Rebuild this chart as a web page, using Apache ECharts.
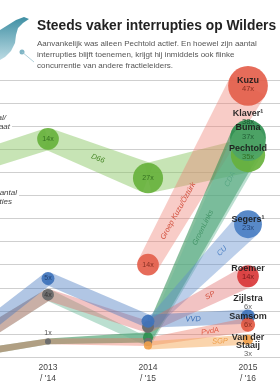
<!DOCTYPE html>
<html>
<head>
<meta charset="utf-8">
<script src="https://cdn.jsdelivr.net/npm/echarts@6/dist/echarts.min.js"></script>
<style>
html, body { margin: 0; padding: 0; background: #fff; }
#chart { width: 280px; height: 384px; }
</style>
</head>
<body>
<div id="chart"></div>
<script>
// jaren (x) en labels onder de as
const years = [2012, 2013, 2014, 2015]
const yearLabels = ['2012\n/ \'13', '2013\n/ \'14', '2014\n/ \'15', '2015\n/ \'16']

const partyNames = ['D66', 'Groep Kuzu/Öztürk', 'GroenLinks', 'CDA', 'CU', 'SP', 'VVD', 'PvdA', 'SGP']
const leaderNames = ['Pechtold', 'Kuzu', 'Klaver¹', 'Buma', 'Segers¹', 'Roemer', 'Zijlstra', 'Samsom', 'Van der\nStaaij']

// aantal interrupties per jaar
const d66Count = [12, 14, 27, 35]
const kuzuCount = [null, null, 14, 47]
const glCount = [2, 1, 3, 38]
const cdaCount = [6, 4, 2, 37]
const cuCount = [null, null, 4, 23]
const spCount = [6, 4, 4, 14]
const vvdCount = [6, 5, 5, 6]
const pvdaCount = [2, 1, 2, 6]
const sgpCount = [null, null, 2, 3]

// aandeel in procenten (positie op de y-as)
const d66Share = [16.1, 18.9, 15.5, 17.5]
const kuzuShare = [null, null, 8.0, 23.5]
const glShare = [0, 1.35, 1.7, 19.0]
const cdaShare = [0, 5.4, 1.3, 18.5]
const cuShare = [null, null, 2.6, 11.5]
const spShare = [0, 5.4, 2.6, 7.0]
const vvdShare = [0, 6.8, 3.1, 3.5]
const pvdaShare = [0, 1.35, 1.3, 2.8]
const sgpShare = [null, null, 1.0, 1.5]

const counts = [d66Count, kuzuCount, glCount, cdaCount, cuCount, spCount, vvdCount, pvdaCount, sgpCount]
const shares = [d66Share, kuzuShare, glShare, cdaShare, cuShare, spShare, vvdShare, pvdaShare, sgpShare]

// stijl per partij
const circleColors = ['#68b23d', '#e4604c', '#2f8f50', '#4ea466', '#4a7fc3', '#d9383a', '#3f73bb', '#e35a43', '#f0a04b']
const bandColors = ['rgba(130,196,90,0.45)', 'rgba(238,128,116,0.4)', 'rgba(40,140,80,0.55)', 'rgba(105,185,150,0.45)',
  'rgba(95,140,205,0.42)', 'rgba(222,105,105,0.4)', 'rgba(70,120,190,0.42)', 'rgba(235,110,90,0.4)', 'rgba(245,170,90,0.5)']
const textColors = ['#4a8a2a', '#d2503e', '#2a7a45', '#5aa885', '#4a7fc3', '#d2503e', '#3b6fb6', '#e05a43', '#f0a04b']
const innerColors = ['#2f6a1d', '#7e2a1e', '#174f2c', '#1f5a33', '#1f3f70', '#6e1617', '#1f3f70', '#7e2a1e', '#6b4010']
const countColors = ['#2f6a1d', '#7e2a1e', '#174f2c', '#1f5a33', '#1f3f70', '#6e1617', '#555', '#7e2a1e', '#555']
// label langs de band: welk segment en waar
const bandLabelSeg = [1, 2, 2, 2, 2, 2, 2, 2, 2]
const bandLabelT = [0.5, 0.3, 0.55, 0.82, 0.74, 0.62, 0.45, 0.62, 0.72]
// offsets van de naam-labels bij 2015
const lastLabelOffset = [[0, -2], [0, -1], [0, -20], [0, -11], [0, 0], [0, -3], [0, -14], [0, -4], [0, 6]]

const R = c => 2.9 * Math.sqrt(c)
const font = 'Liberation Sans, Arial'

const chart = echarts.init(document.getElementById('chart'))

// banden
const bandSeries = partyNames.map((name, p) => {
  const segs = []
  for (let i = 0; i < years.length - 1; i++) {
    if (counts[p][i] == null || counts[p][i + 1] == null) continue
    segs.push([years[i], shares[p][i], counts[p][i], years[i + 1], shares[p][i + 1], counts[p][i + 1], i])
  }
  return {
    type: 'custom',
    name: name,
    z: 1,
    silent: true,
    encode: { x: [0, 3], y: [1, 4] },
    data: segs,
    renderItem: function (params, api) {
      const a = api.coord([api.value(0), api.value(1)])
      const b = api.coord([api.value(3), api.value(4)])
      const r0 = R(api.value(2))
      const r1 = R(api.value(5))
      const dx = b[0] - a[0]
      const dy = b[1] - a[1]
      const len = Math.sqrt(dx * dx + dy * dy)
      const nx = -dy / len
      const ny = dx / len
      const children = [{
        type: 'polygon',
        shape: { points: [
          [a[0] + nx * r0, a[1] + ny * r0], [b[0] + nx * r1, b[1] + ny * r1],
          [b[0] - nx * r1, b[1] - ny * r1], [a[0] - nx * r0, a[1] - ny * r0]
        ] },
        style: { fill: bandColors[p] }
      }]
      if (api.value(6) === bandLabelSeg[p]) {
        const t = bandLabelT[p]
        children.push({
          type: 'text',
          x: a[0] + dx * t,
          y: a[1] + dy * t,
          rotation: -Math.atan2(dy, dx),
          style: {
            text: name, fill: textColors[p], fontSize: 7.5, fontStyle: 'italic',
            fontFamily: font, align: 'center', verticalAlign: 'middle'
          }
        })
      }
      return { type: 'group', children: children }
    }
  }
})

// gedeelde punten (zelfde jaar, zelfde positie) worden grijs
function shared(p, i) {
  let n = 0
  shares.forEach((s, q) => { if (counts[q][i] != null && s[i] === shares[p][i]) n++ })
  return n > 1
}

const circleSeries = partyNames.map((name, p) => {
  const data = []
  years.forEach((y, i) => {
    if (counts[p][i] == null) return
    const item = { value: [y, shares[p][i], counts[p][i]] }
    const grey = shared(p, i)
    item.itemStyle = { color: grey ? '#6e6e6e' : circleColors[p] }
    if (i === years.length - 1) {
      item.label = {
        show: true, position: 'inside', offset: lastLabelOffset[p],
        formatter: '{n|' + leaderNames[p].replace('\n', '}\n{n|') + '}\n{c|' + counts[p][i] + 'x}',
        rich: {
          n: { fontSize: 9, fontWeight: 'bold', color: '#1a1a1a', lineHeight: 8, fontFamily: font },
          c: { fontSize: 7.5, color: countColors[p], lineHeight: 9, fontFamily: font }
        }
      }
    } else if (i === 1 && grey && counts[p][i] === 1) {
      if (p === partyNames.indexOf('PvdA')) {
        item.label = { show: true, position: 'top', distance: 2, formatter: counts[p][i] + 'x', fontSize: 7, color: '#444' }
      }
    } else if (counts[p][i] >= 10 || (i === 1 && counts[p][i] >= 4)) {
      if (!grey || p === partyNames.indexOf('SP')) {
        item.label = { show: true, position: 'inside', formatter: counts[p][i] + 'x', fontSize: 7, color: grey ? '#333' : innerColors[p] }
      }
    }
    data.push(item)
  })
  return {
    type: 'scatter',
    name: name,
    z: 3,
    silent: true,
    symbolSize: v => 2 * R(v[2]),
    itemStyle: { opacity: 0.92 },
    label: { fontFamily: font },
    data: data
  }
})

const sideText = (txt, x, y) => ({
  type: 'text', z: 10, x: x, y: y,
  style: { text: txt, align: 'right', verticalAlign: 'middle', fontSize: 8, fontStyle: 'italic', fill: '#444', backgroundColor: '#fff', padding: [0, 2, 0, 0], fontFamily: font }
})

chart.setOption({
  animation: false,
  title: {
    text: 'Steeds vaker interrupties op Wilders',
    subtext: 'Aanvankelijk was alleen Pechtold actief. En hoewel zijn aantal\ninterrupties blijft toenemen, krijgt hij inmiddels ook flinke\nconcurrentie van andere fractieleiders.',
    left: 37, top: 19, padding: 0, itemGap: 5,
    textStyle: { fontSize: 13.8, fontWeight: 'bold', color: '#222', fontFamily: font },
    subtextStyle: { fontSize: 8, color: '#555', lineHeight: 11, fontFamily: font }
  },
  grid: { left: 0, right: 0, top: 80, bottom: 26 },
  xAxis: {
    type: 'value', min: 2012.52, max: 2015.32,
    axisLine: { show: false }, axisTick: { show: false }, splitLine: { show: false },
    axisLabel: {
      customValues: years.slice(1),
      formatter: v => yearLabels[years.indexOf(Math.round(v))],
      fontSize: 8.5, color: '#444', lineHeight: 11, margin: 5, fontFamily: font
    }
  },
  yAxis: {
    type: 'value', min: 0, max: 24, interval: 2,
    axisLine: { show: false }, axisTick: { show: false }, axisLabel: { show: false },
    splitLine: { lineStyle: { color: '#cfcfcf', width: 1 } }
  },
  graphic: [
    {
      type: 'polygon', z: 10,
      shape: { points: [[0, 30], [8, 25], [16, 20], [24, 17], [29, 19], [23, 23], [18, 28], [16, 35], [15, 43], [11, 51], [5, 57], [0, 60]] },
      style: { fill: new echarts.graphic.LinearGradient(0, 0, 0, 1, [{ offset: 0, color: '#3f8fa3' }, { offset: 1, color: '#bcdbe4' }]) }
    },
    { type: 'circle', z: 10, shape: { cx: 22, cy: 52, r: 2.5 }, style: { fill: '#7fb5c5' } },
    { type: 'line', z: 10, shape: { x1: 22, y1: 52, x2: 34, y2: 62 }, style: { stroke: '#9cc4d0', lineWidth: 0.8 } },
    sideText('Totaal/', 8, 118),
    sideText('resultaat', 12, 127),
    sideText('Aantal', 19, 193),
    sideText('interrupties', 14, 202)
  ],
  series: bandSeries.concat(circleSeries)
})
</script>
</body>
</html>
